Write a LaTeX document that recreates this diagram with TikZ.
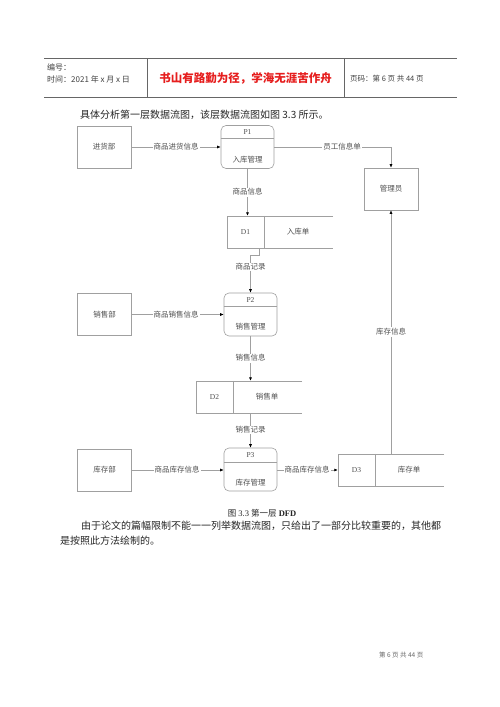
\documentclass[tikz,border=0pt]{standalone}
\usepackage{fontspec}
\setmainfont{Liberation Serif}
\newfontfamily\cjk{Noto Sans CJK SC}
\usetikzlibrary{arrows.meta}
\definecolor{lgray}{RGB}{160,160,160}
\definecolor{tgray}{RGB}{80,80,80}
\definecolor{hred}{RGB}{230,30,30}
\tikzset{
  dl/.style={draw=lgray, line width=0.6pt},
  flow/.style={dl, -{Latex[length=3.5pt,width=3pt,color=black]}},
  dfont/.style={font=\cjk\fontsize{7.5}{9}\selectfont, text=tgray},
  lbl/.style={dfont, fill=white, inner sep=1pt},
  ent/.style={dl, dfont, minimum width=54pt, minimum height=42pt, inner sep=0pt},
  proc/.style={dl, minimum width=53pt, minimum height=43pt, inner sep=0pt, rounded corners=5pt},
  store/.style={minimum width=106pt, minimum height=32pt, inner sep=0pt},
  txt/.style={dfont, inner sep=0pt},
  rtxt/.style={font=\rmfamily\fontsize{7.5}{9}\selectfont, text=tgray, inner sep=0pt},
  body/.style={font=\cjk\fontsize{10}{12}\selectfont, text=black!85, inner sep=0pt, anchor=west},
  hdr/.style={font=\cjk\fontsize{8}{10}\selectfont, text=black!75, inner sep=0pt, anchor=west},
}
\begin{document}
\begin{tikzpicture}[x=1pt,y=-1pt]
\useasboundingbox[fill=white] (0,0) rectangle (500,707);
% header
\draw[black!60, line width=0.7pt] (44,58) -- (457,58);
\draw[black!60, line width=0.7pt] (44,97) -- (457,97);
\draw[black!60, line width=0.7pt] (147,58) -- (147,97);
\draw[black!60, line width=0.7pt] (344,58) -- (344,97);
\node[hdr] (h1) at (47,67) {编号：};
\node[hdr] (h2) at (47,79) {时间：2021 年 x 月 x 日};
\node[font=\cjk\bfseries\fontsize{11.5}{13}\selectfont, text=hred, inner sep=0pt] (h3) at (245.5,78) {书山有路勤为径，学海无涯苦作舟};
\node[hdr, font=\cjk\fontsize{7.5}{9}\selectfont] (h4) at (350,79) {页码：第 6 页 共 44 页};
% body intro
\node[body] (t1) at (80,115) {具体分析第一层数据流图，该层数据流图如图 3.3 所示。};
% entities
\node[ent] (jhb) at (104,147) {进货部};
\node[ent] (xsb) at (104.5,314.5) {销售部};
\node[ent] (kcb) at (104.5,470) {库存部};
\node[ent] (gly) at (391,189) {管理员};
% processes
\node[proc] (p1) at (247.5,147) {};
\draw[dl] (p1.west |- 0,138) -- (p1.east |- 0,138);
\node[rtxt] (p1a) at (247.5,132) {P1};
\node[txt] (p1b) at (247.5,160) {入库管理};
\node[proc] (p2) at (250.5,314.5) {};
\draw[dl] (p2.west |- 0,306) -- (p2.east |- 0,306);
\node[rtxt] (p2a) at (250.5,300) {P2};
\node[txt] (p2b) at (250.5,327) {销售管理};
\node[proc] (p3) at (250.5,469.5) {};
\draw[dl] (p3.west |- 0,462) -- (p3.east |- 0,462);
\node[rtxt] (p3a) at (250.5,455) {P3};
\node[txt] (p3b) at (250.5,483) {库存管理};
% stores
\node[store] (d1) at (280,232) {};
\draw[dl] (d1.north east) -- (d1.north west) -- (d1.south west) -- (d1.south east);
\draw[dl] ([xshift=37]d1.north west) -- ([xshift=37]d1.south west);
\node[rtxt] (d1a) at (245.5,232) {D1};
\node[txt] (d1b) at (298,232) {入库单};
\node[store] (d2) at (249,397) {};
\draw[dl] (d2.north east) -- (d2.north west) -- (d2.south west) -- (d2.south east);
\draw[dl] ([xshift=37]d2.north west) -- ([xshift=37]d2.south west);
\node[rtxt] (d2a) at (214.5,397) {D2};
\node[txt] (d2b) at (267,397) {销售单};
\node[store] (d3) at (391,470) {};
\draw[dl] (d3.north east) -- (d3.north west) -- (d3.south west) -- (d3.south east);
\draw[dl] ([xshift=37]d3.north west) -- ([xshift=37]d3.south west);
\node[rtxt] (d3a) at (356.5,470) {D3};
\node[txt] (d3b) at (409,470) {库存单};
% flows
\draw[flow] (jhb.east) -- (jhb.east -| p1.west);
\node[lbl] (f1) at (176,147) {商品进货信息};
\draw[flow] (p1.east) -| (gly.north);
\node[lbl] (f2) at (342,147) {员工信息单};
\draw[flow] (p1.south) -- (p1.south |- d1.north);
\node[lbl] (f3) at (247.5,192) {商品信息};
\draw[flow] ([xshift=32]d1.south west) -- ++(0,7) -| (p2.north);
\node[lbl] (f4) at (250.5,267) {商品记录};
\draw[flow] (xsb.east) -- (xsb.east -| p2.west);
\node[lbl] (f5) at (176,314.5) {商品销售信息};
\draw[flow] (p2.south) -- (p2.south |- d2.north);
\node[lbl] (f6) at (250.5,358) {销售信息};
\draw[flow] (d2.south -| p3.north) -- (p3.north);
\node[lbl] (f7) at (250.5,430) {销售记录};
\draw[flow] (kcb.east) -- (kcb.east -| p3.west);
\node[lbl] (f8) at (177,470) {商品库存信息};
\draw[flow] (p3.east |- d3.west) -- (d3.west);
\node[lbl] (f9) at (307,470) {商品库存信息};
\draw[flow] (d3.north) -- (gly.south);
\node[lbl] (f10) at (391,332) {库存信息};
% caption and text
\node[font=\fontsize{8.5}{10}\selectfont, text=black!85, inner sep=0pt] (cap) at (262,513) {{\cjk 图} 3.3 {\cjk 第一层} \textbf{DFD}};
\node[body] (t2) at (81,526) {由于论文的篇幅限制不能一一列举数据流图，只给出了一部分比较重要的，其他都};
\node[body] (t3) at (60,541) {是按照此方法绘制的。};
\node[font=\cjk\fontsize{6.5}{8}\selectfont, text=black!60, inner sep=0pt, anchor=west] (ft) at (379,655) {第 6 页 共 44 页};
\end{tikzpicture}
\end{document}
